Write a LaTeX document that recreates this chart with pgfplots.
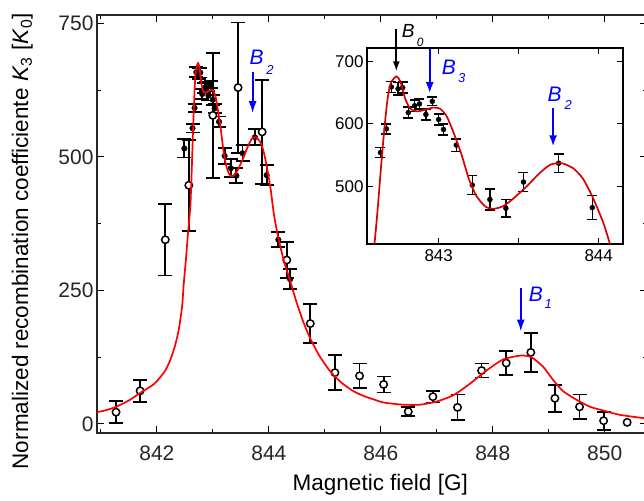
\documentclass[border=0pt]{standalone}
\usepackage{pgfplots}
\usepackage{pgfplotstable}
\pgfplotsset{compat=1.18}
\usepackage{fontspec}
\setmainfont{Liberation Sans}
\usetikzlibrary{arrows.meta}

% Open symbols: field [G], K3 [K0], error
\pgfplotstableread{
x y e
841.27 22 21
841.70 62 21
842.15 345 67
842.57 447 85
843.00 578 117
843.45 630 122
843.88 547 97
844.32 307 34
844.74 188 36
845.18 96 33
845.62 90 23
846.05 74 15
846.49 23 8
846.93 51 11
847.37 31 24
847.80 100 13
848.24 114 23
848.68 134 37
849.11 48 25
849.55 32 23
849.98 6 17
}\opendata

% Filled symbols (fine scan around the main resonance)
\pgfplotstableread{
x y e
842.49 516 17
842.636 554 8
842.673 592 8
842.704 659 9
842.746 656 10
842.775 658 9
842.81 618 9
842.85 629 9
842.88 632 8
842.92 615 9
842.96 636 7
843.00 607 9
843.03 591 9
843.11 566 10
843.21 502 15
843.32 479 17
843.42 465 14
843.53 507 15
843.75 537 15
843.96 466 19
844.17 345 14
844.38 271 19
}\filleddata

% Model curve
\pgfplotstableread{
x y
840.93 22
841.10 26
841.27 32
841.50 44
841.70 58
841.90 71
842.00 80
842.15 100
842.24 120
842.32 145
842.39 176
842.45 220
842.48 263
842.52 310
842.55 350
842.58 385
842.60 412
842.62 468
842.64 532
842.66 591
842.68 639
842.70 665
842.735 676
842.76 668
842.79 641
842.82 625
842.865 620
842.92 623
842.965 626
843.01 624
843.05 612
843.09 588
843.14 553
843.19 511
843.235 485
843.29 468
843.34 464
843.40 468
843.46 479
843.55 500
843.63 521
843.70 535
843.77 537
843.84 529
843.90 513
843.96 484
844.03 441
844.09 393
844.17 348
844.27 305
844.38 268
844.50 226
844.62 190
844.74 160
844.90 128
845.10 98
845.30 77
845.50 62
845.70 52
845.90 45
846.05 40
846.40 36
846.70 36
847.00 42
847.30 54
847.60 76
847.90 101
848.19 121
848.50 128
848.69 125
848.90 107
849.08 82
849.26 61
849.50 45
849.74 32
849.98 25
850.27 17
850.76 10
}\fitcurve

\begin{document}
\begin{tikzpicture}[x=1pt,y=1pt]
\begin{axis}[
  at={(97pt,67pt)}, anchor=south west,
  scale only axis, width=550pt, height=418pt,
  xmin=840.93, xmax=850.755, ymin=-17, ymax=766,
  xtick={842,844,846,848,850},
  minor xtick={841,843,845,847,849,851},
  ytick={0,250,500,750},
  minor ytick={125,375,625},
  tick pos=both, xticklabel pos=lower, yticklabel pos=left,
  tick align=inside,
  major tick length=7pt, minor tick length=4pt,
  tick style={black, line width=1pt},
  axis line style={black!85, line width=1.2pt},
  /pgf/number format/assume math mode=true,
  /pgf/number format/set thousands separator={},
  tick label style={font=\fontsize{21}{21}\selectfont, text=black!85},
  xticklabel style={yshift=-9pt},
  xlabel={Magnetic field [G]},
  ylabel={Normalized recombination coefficiente \textit{K}\textsubscript{3} [\textit{K}\textsubscript{0}]},
  label style={font=\fontsize{22.5}{22.5}\selectfont},
  xlabel style={at={(axis description cs:0.515,-0.124)}, anchor=center},
  ylabel style={at={(axis description cs:-0.136,0.459)}, anchor=center},
  clip mode=individual,
]
\addplot[only marks, mark=*, mark size=2.8pt, black,
  error bars/.cd, y dir=both, y explicit,
  error bar style={black, line width=1.8pt},
  error mark options={rotate=90, mark size=7pt, black, line width=1.8pt}]
  table[x=x, y=y, y error=e] {\filleddata};
\addplot[only marks, mark=*, mark size=3.7pt,
  mark options={draw=black, fill=white, line width=1.5pt},
  error bars/.cd, y dir=both, y explicit,
  error bar style={black, line width=1.8pt},
  error mark options={rotate=90, mark size=7pt, black, line width=1.8pt}]
  table[x=x, y=y, y error=e] {\opendata};
\addplot[only marks, mark=*, mark size=3.7pt,
  mark options={draw=black, fill=white, line width=1.5pt}]
  coordinates {(850.40,3)};
\addplot[red, line width=1.7pt, smooth, tension=0.4] table[x=x, y=y] {\fitcurve};

% resonance markers
\draw[blue, line width=2pt, -{Latex[length=12pt, width=8pt]}]
  (axis cs:843.71,660) -- (axis cs:843.71,582);
\node[text=blue, font=\fontsize{21}{21}\selectfont\itshape] at (axis cs:843.78,686) {B};
\node[text=blue, font=\fontsize{13}{13}\selectfont\itshape] at (axis cs:844.02,663) {2};
\draw[blue, line width=2pt, -{Latex[length=12pt, width=8pt]}]
  (axis cs:848.50,254) -- (axis cs:848.50,173);
\node[text=blue, font=\fontsize{21}{21}\selectfont\itshape] at (axis cs:848.77,243) {B};
\node[text=blue, font=\fontsize{13}{13}\selectfont\itshape] at (axis cs:848.99,224) {1};
\end{axis}

% inset: zoom on the main resonance
\begin{axis}[
  at={(367pt,256pt)}, anchor=south west,
  scale only axis, width=256pt, height=196pt,
  xmin=842.552, xmax=844.152, ymin=407.8, ymax=721.4,
  xtick={843,844}, minor xtick={843.5},
  ytick={500,600,700},
  tick pos=both, xticklabel pos=lower, yticklabel pos=left,
  tick align=inside, major tick length=6pt, minor tick length=6pt,
  tick style={black, line width=1pt},
  axis line style={black, line width=1.6pt},
  axis background/.style={fill=white},
  /pgf/number format/assume math mode=true,
  /pgf/number format/set thousands separator={},
  tick label style={font=\fontsize{17}{17}\selectfont},
  xticklabel style={yshift=-2pt},
  clip mode=individual,
]
\addplot[only marks, mark=*, mark size=2.5pt, black,
  restrict x to domain=842.55:844.15,
  error bars/.cd, y dir=both, y explicit,
  error bar style={black, line width=1.5pt},
  error mark options={rotate=90, mark size=5pt, black, line width=1.5pt}]
  table[x=x, y=y, y error=e] {\filleddata};
\addplot[red!85!black, line width=1.7pt, smooth, tension=0.4] table[x=x, y=y] {\fitcurve};

\draw[black, line width=1.6pt, -{Latex[length=10pt, width=7pt]}]
  (axis cs:842.735,752) -- (axis cs:842.735,684);
\node[font=\fontsize{19}{19}\selectfont\itshape] at (axis cs:842.81,749) {B};
\node[font=\fontsize{12}{12}\selectfont\itshape] at (axis cs:842.885,731) {0};
\draw[blue, line width=2pt, -{Latex[length=11pt, width=8pt]}]
  (axis cs:842.944,719) -- (axis cs:842.944,649);
\node[text=blue, font=\fontsize{21}{21}\selectfont\itshape] at (axis cs:843.064,691) {B};
\node[text=blue, font=\fontsize{13}{13}\selectfont\itshape] at (axis cs:843.144,673) {3};
\draw[blue, line width=2pt, -{Latex[length=11pt, width=8pt]}]
  (axis cs:843.715,625) -- (axis cs:843.715,564);
\node[text=blue, font=\fontsize{21}{21}\selectfont\itshape] at (axis cs:843.725,648) {B};
\node[text=blue, font=\fontsize{13}{13}\selectfont\itshape] at (axis cs:843.81,631) {2};
\end{axis}

\pgfresetboundingbox
\useasboundingbox (0,0) rectangle (644,500);
\end{tikzpicture}
\end{document}
